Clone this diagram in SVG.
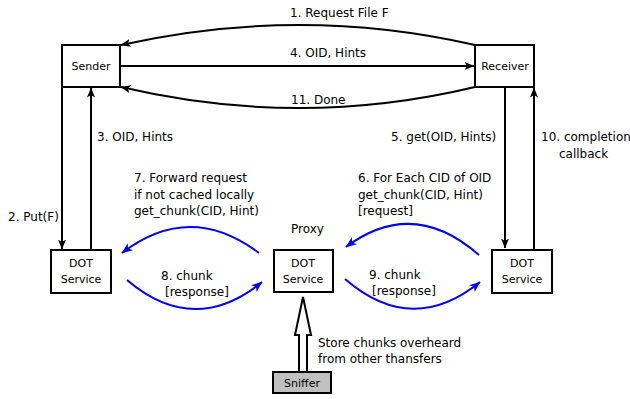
<svg xmlns="http://www.w3.org/2000/svg" width="630" height="399" viewBox="0 0 630 399">
<style>
  .box { fill: #ffffff; stroke: #000000; stroke-width: 2; }
  .sniff { fill: #c0c0c0; stroke: #000000; stroke-width: 2; }
  .nt { font-family: "DejaVu Sans", sans-serif; font-size: 11px; fill: #000; text-anchor: middle; }
  .lbl { font-family: "DejaVu Sans", sans-serif; font-size: 12px; fill: #000; }
  .k { fill: none; stroke: #000000; stroke-width: 2; }
  .b { fill: none; stroke: #0000ff; stroke-width: 2; }
</style>
<defs>
  <marker id="ak" viewBox="0 0 10 8" refX="9.5" refY="4" markerWidth="10" markerHeight="8" markerUnits="userSpaceOnUse" orient="auto">
    <path d="M0,0 L10,4 L0,8 L2.5,4 z" fill="#000000"/>
  </marker>
  <marker id="ab" viewBox="0 0 10 8" refX="9.5" refY="4" markerWidth="11" markerHeight="9" markerUnits="userSpaceOnUse" orient="auto">
    <path d="M0,0 L10,4 L0,8 L2.5,4 z" fill="#0000ff"/>
  </marker>
</defs>
<rect width="630" height="399" fill="#ffffff"/>

<g id="connectors">
  <path class="k" d="M475,45 Q300,5 121,45" marker-end="url(#ak)"/>
  <path class="k" d="M120,66 L474,66" marker-end="url(#ak)"/>
  <path class="k" d="M475,87 Q300,129 121,87" marker-end="url(#ak)"/>
  <path class="k" d="M62,87 L62,249" marker-end="url(#ak)"/>
  <path class="k" d="M91,250 L91,88" marker-end="url(#ak)"/>
  <path class="k" d="M505,87 L505,248" marker-end="url(#ak)"/>
  <path class="k" d="M534,250 L534,88" marker-end="url(#ak)"/>
  <path class="b" d="M259,253 Q190,201 122,253" marker-end="url(#ab)"/>
  <path class="b" d="M127,280 Q194,337 262,282" marker-end="url(#ab)"/>
  <path class="b" d="M479,255 Q413,197 346,247" marker-end="url(#ab)"/>
  <path class="b" d="M345,279 Q412,337 480,282" marker-end="url(#ab)"/>
  <polygon points="299,372 299,335 295,335 303,297 311,335 307,335 307,372" fill="#ffffff" stroke="#000000" stroke-width="2" stroke-linejoin="miter"/>
</g>

<g id="labels">
  <text class="lbl" x="290" y="17">1. Request File F</text>
  <text class="lbl" x="290" y="57">4. OID, Hints</text>
  <text class="lbl" x="291" y="104">11. Done</text>
  <text class="lbl" x="97" y="141">3. OID, Hints</text>
  <text class="lbl" x="8" y="221">2. Put(F)</text>
  <text class="lbl" x="134" y="182">7. Forward request</text>
  <text class="lbl" x="134" y="199">if not cached locally</text>
  <text class="lbl" x="134" y="215">get_chunk(CID, Hint)</text>
  <text class="lbl" x="291" y="233">Proxy</text>
  <text class="lbl" x="161" y="280">8. chunk</text>
  <text class="lbl" x="165" y="296">[response]</text>
  <text class="lbl" x="369" y="279">9. chunk</text>
  <text class="lbl" x="372" y="295">[response]</text>
  <text class="lbl" x="358" y="182">6. For Each CID of OID</text>
  <text class="lbl" x="358" y="199">get_chunk(CID, Hint)</text>
  <text class="lbl" x="358" y="215">[request]</text>
  <text class="lbl" x="391" y="141">5. get(OID, Hints)</text>
  <text class="lbl" x="541" y="141">10. completion</text>
  <text class="lbl" x="559" y="158">callback</text>
  <text class="lbl" x="318" y="347">Store chunks overheard</text>
  <text class="lbl" x="318" y="363">from other thansfers</text>
</g>

<g id="sender">
  <rect class="box" x="62" y="45" width="58" height="42"/>
  <text class="nt" x="91" y="70">Sender</text>
</g>
<g id="receiver">
  <rect class="box" x="475" y="45" width="59" height="42"/>
  <text class="nt" x="505" y="70">Receiver</text>
</g>
<g id="dot-left">
  <rect class="box" x="51" y="250" width="60" height="43"/>
  <text class="nt" x="81" y="267">DOT</text>
  <text class="nt" x="81" y="283">Service</text>
</g>
<g id="dot-proxy">
  <rect class="box" x="274" y="250" width="59" height="42"/>
  <text class="nt" x="303" y="267">DOT</text>
  <text class="nt" x="303" y="283">Service</text>
</g>
<g id="dot-right">
  <rect class="box" x="492" y="250" width="60" height="43"/>
  <text class="nt" x="522" y="267">DOT</text>
  <text class="nt" x="522" y="283">Service</text>
</g>
<g id="sniffer">
  <rect class="sniff" x="273" y="372" width="58" height="21"/>
  <text class="nt" x="302" y="387">Sniffer</text>
</g>
</svg>
